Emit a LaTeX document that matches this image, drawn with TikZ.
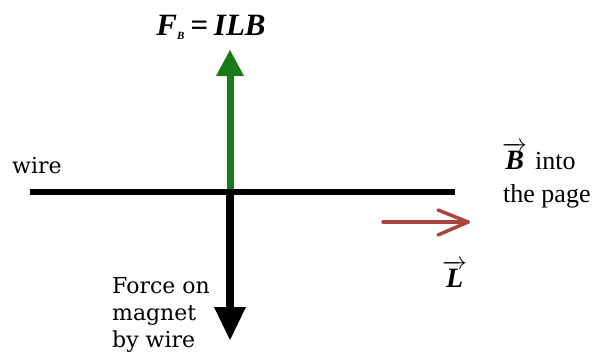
\documentclass[tikz,border=0pt]{standalone}
\usepackage{fontspec}
\setmainfont{Liberation Serif}
\newfontfamily\notefont{DejaVu Serif}
\newfontfamily\pagefont{Liberation Serif}
\usetikzlibrary{positioning}

\definecolor{forcegreen}{RGB}{26,122,26}
\definecolor{currentred}{RGB}{168,69,63}

\tikzset{
  vec/.style={font=\pagefont\fontsize{28}{28}\selectfont\bfseries\itshape, inner sep=0pt, anchor=base west},
  note/.style={font=\notefont\fontsize{22}{27}\selectfont, inner sep=0pt, anchor=base west, align=left},
  plain/.style={font=\pagefont\fontsize{26}{26}\selectfont, inner sep=0pt, anchor=base west},
}

\begin{document}
\begin{tikzpicture}[x=1pt,y=-1pt]
  \useasboundingbox (0,0) rectangle (595,360);
  \coordinate (west) at (30,192);
  \coordinate (east) at (455,192);
  \coordinate (cross) at (230,192);
  \coordinate (up) at (230,76);
  \coordinate (uptip) at (230,50);
  \coordinate (down) at (230,307);
  \coordinate (downtip) at (230,340);
  \coordinate (ltail) at (383,222);
  \coordinate (lhead) at (468,222);

  % force on the wire
  \draw[forcegreen, line width=7pt] (cross) -- (up);
  \fill[forcegreen] ([xshift=-14pt]up) -- ([xshift=14pt]up) -- (uptip) -- cycle;
  % force on the magnet
  \draw[line width=8pt] (cross) -- (down);
  \fill ([xshift=-16pt]down) -- ([xshift=16pt]down) -- (downtip) -- cycle;
  % wire
  \draw[line width=6pt] (west) -- (east);
  % current
  \draw[currentred, line width=3.5pt, line cap=round, line join=round]
    (ltail) -- (lhead);
  \draw[currentred, line width=3.5pt, line cap=round, line join=round]
    ([shift={(-30,-12)}]lhead) -- (lhead) -- ([shift={(-30,13)}]lhead);

  \node[font=\pagefont\fontsize{31}{31}\selectfont\bfseries\itshape, inner sep=0pt, anchor=base]
    (fb) at (211,35) {F\raisebox{-0.3ex}{\fontsize{11}{11}\selectfont B}\kern6pt=\kern6pt ILB};
  \node[note] (wirelabel) at (12,173) {wire};
  \node[vec] (bvec) at (502,169) {$\overrightarrow{\hbox{B}}$};
  \node[plain] (into) at (535,169) {into};
  \node[plain] (page) at (503,202) {the page};
  \node[vec] (lvec) at (442,287) {$\overrightarrow{\hbox{L}}$};
  \node[note] (magnet) at (112,347) {Force on\\magnet\\by wire};
\end{tikzpicture}
\end{document}
